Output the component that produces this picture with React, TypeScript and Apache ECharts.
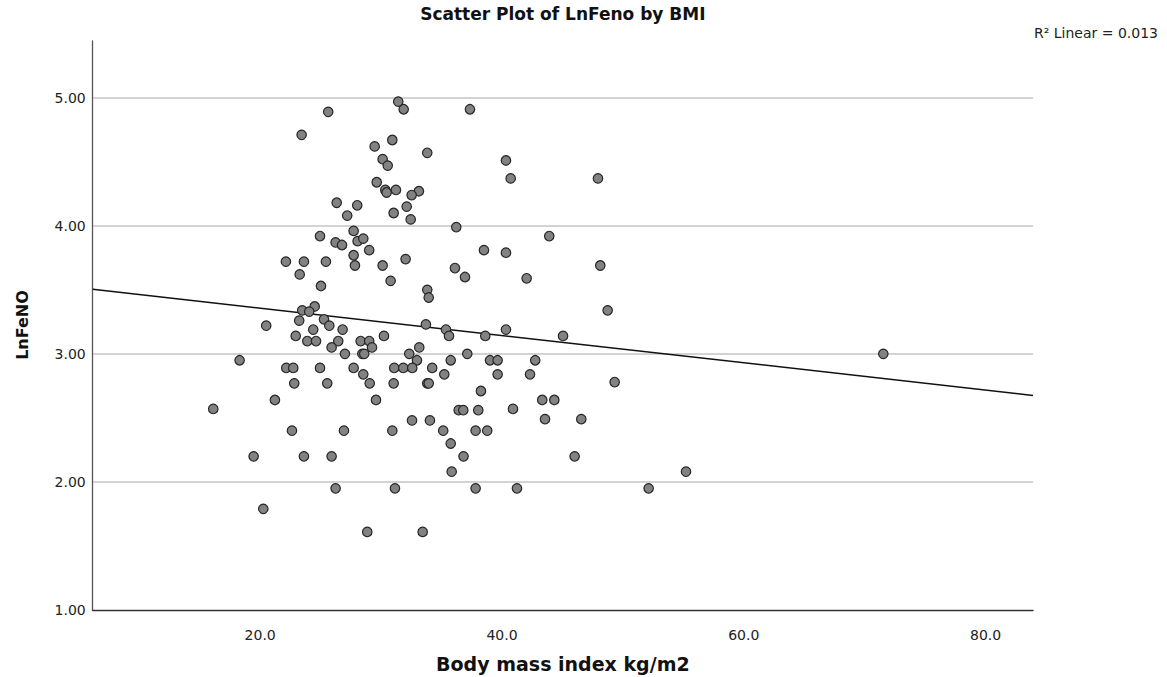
import React, { useEffect, useRef } from "react";
import * as echarts from "echarts";

// Body mass index (kg/m2) of each subject
const bmi: number[] = [
  25.63, 23.43, 26.33, 27.2, 24.95, 26.24, 26.77, 22.13, 23.62, 25.44, 23.27,
  31.42, 31.87, 37.35, 30.93, 29.47, 33.82, 30.13, 30.55, 29.64, 30.35, 30.46,
  31.23, 33.13, 32.53, 28.03, 32.12, 31.04, 32.45, 36.22, 27.73, 28.06, 28.53,
  29.02, 38.51, 27.73, 27.84, 30.13, 32.03, 36.11, 36.94, 30.79, 25.03, 24.51,
  23.48, 24.06, 20.5, 23.23, 25.28, 25.72, 24.39, 26.82, 22.94, 23.9, 24.62,
  26.46, 25.91, 27.01, 18.3, 22.16, 22.74, 24.95, 27.73, 22.82, 25.55, 21.22,
  16.12, 22.63, 26.93, 19.46, 23.62, 25.91, 33.82, 33.94, 33.71, 35.37, 35.62,
  38.62, 30.24, 28.31, 29.02, 29.25, 33.16, 28.45, 28.61, 32.33, 37.13, 32.97,
  35.76, 39.01, 39.64, 31.09, 31.84, 32.58, 34.23, 28.53, 35.23, 39.64, 29.06,
  31.04, 33.82, 33.94, 29.58, 38.26, 36.42, 36.8, 38.04, 32.56, 34.04, 30.93,
  35.14, 37.82, 38.78, 35.76, 36.82, 35.84, 26.24, 20.26, 31.15, 37.82, 28.86,
  33.44, 40.33, 40.72, 47.94, 43.91, 40.33, 42.04, 48.13, 48.74, 40.33, 45.05,
  42.75, 42.32, 49.32, 40.91, 43.33, 44.33, 43.56, 46.56, 46.01, 55.22, 41.24,
  52.13, 71.54,
];

// LnFeNO of each subject (same order as bmi)
const lnFeNO: number[] = [
  4.89, 4.71, 4.18, 4.08, 3.92, 3.87, 3.85, 3.72, 3.72, 3.72, 3.62,
  4.97, 4.91, 4.91, 4.67, 4.62, 4.57, 4.52, 4.47, 4.34, 4.28, 4.26,
  4.28, 4.27, 4.24, 4.16, 4.15, 4.1, 4.05, 3.99, 3.96, 3.88, 3.9,
  3.81, 3.81, 3.77, 3.69, 3.69, 3.74, 3.67, 3.6, 3.57, 3.53, 3.37,
  3.34, 3.33, 3.22, 3.26, 3.27, 3.22, 3.19, 3.19, 3.14, 3.1, 3.1,
  3.1, 3.05, 3.0, 2.95, 2.89, 2.89, 2.89, 2.89, 2.77, 2.77, 2.64,
  2.57, 2.4, 2.4, 2.2, 2.2, 2.2, 3.5, 3.44, 3.23, 3.19, 3.14,
  3.14, 3.14, 3.1, 3.1, 3.05, 3.05, 3.0, 3.0, 3.0, 3.0, 2.95,
  2.95, 2.95, 2.95, 2.89, 2.89, 2.89, 2.89, 2.84, 2.84, 2.84, 2.77,
  2.77, 2.77, 2.77, 2.64, 2.71, 2.56, 2.56, 2.56, 2.48, 2.48, 2.4,
  2.4, 2.4, 2.4, 2.3, 2.2, 2.08, 1.95, 1.79, 1.95, 1.95, 1.61,
  1.61, 4.51, 4.37, 4.37, 3.92, 3.79, 3.59, 3.69, 3.34, 3.19, 3.14,
  2.95, 2.84, 2.78, 2.57, 2.64, 2.64, 2.49, 2.49, 2.2, 2.08, 1.95,
  1.95, 3.0,
];

// Tick labels
const xTicks: number[] = [20, 40, 60, 80];
const yTicks: number[] = [1, 2, 3, 4, 5];

// Axis extents
const xRange: number[] = [6.15, 83.92];
const yRange: number[] = [1, 5.443];

// Linear fit (intercept, slope)
const fitIntercept = 3.5695;
const fitSlope = -0.010655;
const rSquared = "0.013";

const FONT = "'DejaVu Sans', 'Open Sans', sans-serif";

export default function App() {
  const ref = useRef<HTMLDivElement>(null);

  useEffect(() => {
    document.body.style.margin = "0";
    if (!ref.current) return;
    const chart = echarts.init(ref.current, null, { renderer: "svg" });

    const points = bmi.map((x, i) => [x, lnFeNO[i]]);
    const fitLine = xRange.map((x) => [x, fitIntercept + fitSlope * x]);

    const gridLeft = 92.7;
    const gridRight = 134;
    const gridTop = 41;
    const gridBottom = 67;
    const plotCenterX = gridLeft + (1167 - gridLeft - gridRight) / 2;

    chart.setOption({
      animation: false,
      backgroundColor: "#ffffff",
      grid: {
        left: gridLeft,
        right: gridRight,
        top: gridTop,
        bottom: gridBottom,
        containLabel: false,
      },
      xAxis: {
        type: "value",
        min: xRange[0],
        max: xRange[1],
        axisLine: { show: true, lineStyle: { color: "#333333", width: 1.3 } },
        axisTick: { show: false },
        splitLine: { show: false },
        axisLabel: {
          customValues: xTicks,
          formatter: (v: number) => v.toFixed(1),
          color: "#222222",
          fontSize: 14,
          fontFamily: FONT,
          margin: 18,
        },
      },
      yAxis: {
        type: "value",
        min: yRange[0],
        max: yRange[1],
        interval: 1,
        axisLine: { show: true, lineStyle: { color: "#555555", width: 1.3 } },
        axisTick: { show: false },
        splitLine: {
          show: true,
          showMinLine: false,
          showMaxLine: false,
          lineStyle: { color: "#c4c4c4", width: 1.6 },
        },
        axisLabel: {
          showMaxLabel: false,
          formatter: (v: number) =>
            yTicks.indexOf(Math.round(v * 1000) / 1000) >= 0 ? v.toFixed(2) : "",
          color: "#222222",
          fontSize: 14,
          fontFamily: FONT,
          margin: 7,
        },
      },
      series: [
        {
          type: "line",
          data: fitLine,
          symbol: "none",
          lineStyle: { color: "#111111", width: 1.5 },
          z: 2,
          silent: true,
        },
        {
          type: "scatter",
          data: points,
          symbol: "circle",
          symbolSize: 9.5,
          itemStyle: {
            color: "#828282",
            borderColor: "#262626",
            borderWidth: 1.2,
            opacity: 1,
          },
          z: 3,
        },
      ],
      graphic: [
        {
          type: "text",
          x: plotCenterX,
          y: 14,
          style: {
            text: "Scatter Plot of LnFeno by BMI",
            fill: "#111111",
            font: `bold 17px ${FONT}`,
            textAlign: "center",
            textVerticalAlign: "middle",
          },
        },
        {
          type: "text",
          x: plotCenterX,
          y: 664,
          style: {
            text: "Body mass index kg/m2",
            fill: "#111111",
            font: `bold 19px ${FONT}`,
            textAlign: "center",
            textVerticalAlign: "middle",
          },
        },
        {
          type: "text",
          x: 22,
          y: 325,
          rotation: Math.PI / 2,
          style: {
            text: "LnFeNO",
            fill: "#111111",
            font: `bold 16px ${FONT}`,
            textAlign: "center",
            textVerticalAlign: "middle",
          },
        },
        {
          type: "text",
          x: 1034,
          y: 33,
          style: {
            text: `R\u00B2 Linear = ${rSquared}`,
            fill: "#222222",
            font: `14px ${FONT}`,
            textAlign: "left",
            textVerticalAlign: "middle",
          },
        },
      ],
    });

    return () => {
      chart.dispose();
    };
  }, []);

  return (
    <div
      ref={ref}
      style={{ position: "absolute", left: 0, top: 0, width: 1167, height: 677 }}
    />
  );
}
